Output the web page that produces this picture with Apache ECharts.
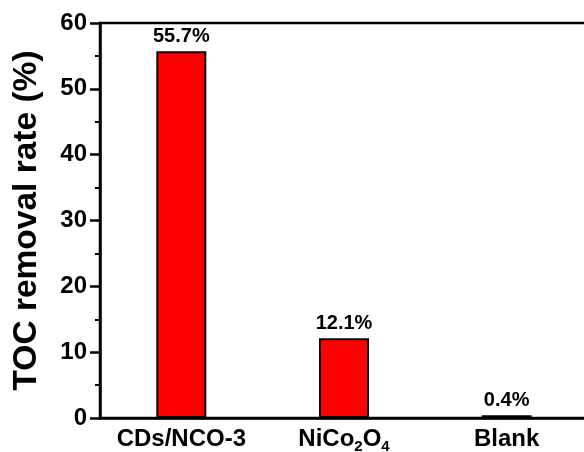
<!DOCTYPE html>
<html>
<head>
<meta charset="utf-8">
<script src="https://cdn.jsdelivr.net/npm/echarts@6/dist/echarts.min.js"></script>
<style>html,body{margin:0;padding:0;background:#fff}#c{width:584px;height:452px}</style>
</head>
<body>
<div id="c"></div>
<script>
const categories = ['CDs/NCO-3', 'NiCo2O4', 'Blank'];
const values = [55.7, 12.1, 0.4];
const valueLabels = ['55.7%', '12.1%', '0.4%'];
const yTicks = [0, 10, 20, 30, 40, 50, 60];

const chart = echarts.init(document.getElementById('c'), null, {renderer: 'canvas'});
const FONT = 'Liberation Sans, Arial, sans-serif';
chart.setOption({
  animation: false,
  backgroundColor: '#fff',
  grid: {left: 100, width: 488, top: 23, height: 395, outerBoundsMode: 'none', containLabel: false, show: true, borderColor: '#000', borderWidth: 2.5, backgroundColor: 'transparent'},
  xAxis: {
    type: 'category',
    data: categories,
    axisLine: {lineStyle: {color: '#000', width: 2.5}},
    axisTick: {show: false},
    axisLabel: {
      interval: 0,
      hideOverlap: false,
      margin: 8,
      color: '#000',
      fontFamily: FONT,
      fontWeight: 'bold',
      fontSize: 24,
      formatter: function (v) {
        if (v === 'NiCo2O4') return '{m|NiCo}{s|2}{m|O}{s|4}';
        return '{m|' + v + '}';
      },
      rich: {
        m: {fontSize: 24, fontWeight: 'bold', fontFamily: FONT, color: '#000', lineHeight: 26},
        s: {fontSize: 15, fontWeight: 'bold', fontFamily: FONT, color: '#000', lineHeight: 26, padding: [15, 0, 0, 0]}
      }
    }
  },
  yAxis: {
    type: 'value',
    min: yTicks[0],
    max: yTicks[yTicks.length - 1],
    interval: 10,
    name: 'TOC removal rate (%)',
    nameLocation: 'middle',
    nameGap: 56,
    nameTextStyle: {fontSize: 33.5, fontWeight: 'bold', fontFamily: FONT, color: '#000'},
    axisLine: {show: true, lineStyle: {color: '#000', width: 2.5}},
    axisTick: {show: true, inside: false, length: 10, lineStyle: {color: '#000', width: 2.5}},
    minorTick: {show: true, splitNumber: 2, length: 5, lineStyle: {color: '#000', width: 2}},
    splitLine: {show: false},
    axisLabel: {margin: 13, color: '#000', fontFamily: FONT, fontWeight: 'bold', fontSize: 24}
  },
  series: [{
    type: 'bar',
    data: values,
    barWidth: 50,
    itemStyle: {color: '#ff0000', borderColor: '#000', borderWidth: 2},
    label: {
      show: true,
      position: 'top',
      distance: 5,
      color: '#000',
      fontFamily: FONT,
      fontWeight: 'bold',
      fontSize: 20,
      formatter: function (p) { return valueLabels[p.dataIndex]; }
    }
  }]
});
</script>
</body>
</html>
